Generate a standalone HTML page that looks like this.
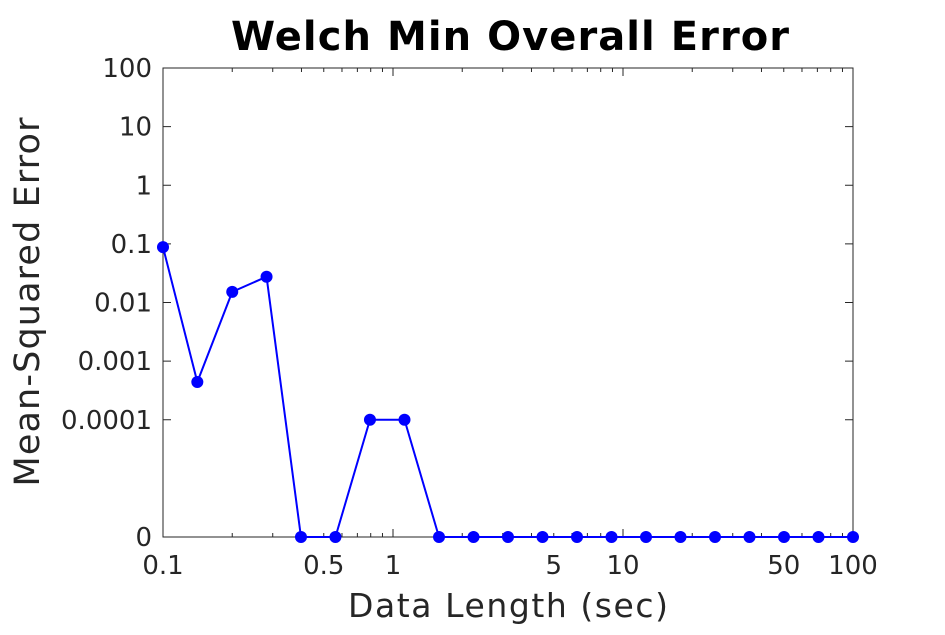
<!DOCTYPE html>
<html><head><meta charset="utf-8"><style>
body{margin:0;background:#fff;}
svg text{font-family:"DejaVu Sans","Liberation Sans",sans-serif;fill:#262626;}
</style></head><body>
<svg id="chart" width="945" height="630" xmlns="http://www.w3.org/2000/svg">
<rect width="945" height="630" fill="#fff"/>
<text x="510" y="50" text-anchor="middle" font-size="40" font-weight="bold" textLength="558" style="fill:#000">Welch Min Overall Error</text>
<text x="508" y="617" text-anchor="middle" font-size="33" textLength="320">Data Length (sec)</text>
<text transform="translate(39,302) rotate(-90)" text-anchor="middle" font-size="35" textLength="369">Mean-Squared Error</text>
<g id="axes"></g>
<g id="series"></g>
</svg>
<script>
const xValues=[0.1,0.141,0.2,0.282,0.398,0.562,0.794,1.122,1.585,2.239,3.162,4.467,6.31,8.913,12.59,17.78,25.12,35.48,50.12,70.79,100];
const yValues=[0.088,0.00044,0.0152,0.0275,0,0,0.0001,0.0001,0,0,0,0,0,0,0,0,0,0,0,0,0];
const xTickVals=[0.1,0.5,1,5,10,50,100];
const xTickLabels=["0.1","0.5","1","5","10","50","100"];
const yTickVals=[1e-6,1e-4,1e-3,1e-2,0.1,1,10,100];
const yTickLabels=["0","0.0001","0.001","0.01","0.1","1","10","100"];
const L=163,R=853,T=68,B=537;
const NS="http://www.w3.org/2000/svg";
const xs=v=>L+(Math.log10(v)+1)/3*(R-L);
const ys=v=>{const c=Math.max(v,1e-6);return B-(Math.log10(c)+6)/8*(B-T);};
function mk(t,a,p){const e=document.createElementNS(NS,t);for(const k in a)e.setAttribute(k,a[k]);p.appendChild(e);return e;}
const ax=document.getElementById('axes');
const box=mk('rect',{x:L,y:T,width:R-L,height:B-T,fill:'none',stroke:'#262626','stroke-width':1},ax);


for(let d=-1;d<2;d++)for(let m=1;m<10;m++){const v=m*Math.pow(10,d);const x=xs(v);const len=m==1?8:4;
mk('line',{x1:x,y1:B,x2:x,y2:B-len,stroke:'#262626'},ax);mk('line',{x1:x,y1:T,x2:x,y2:T+len,stroke:'#262626'},ax);}
xTickVals.forEach((v,i)=>{const t=mk('text',{x:xs(v),y:B+37,'text-anchor':'middle','font-size':26},ax);t.textContent=xTickLabels[i];

});
yTickVals.forEach((v,i)=>{const y=ys(v);mk('line',{x1:L,y1:y,x2:L+8,y2:y,stroke:'#262626'},ax);mk('line',{x1:R,y1:y,x2:R-8,y2:y,stroke:'#262626'},ax);
const t=mk('text',{x:L-11,y:y+9,'text-anchor':'end','font-size':26},ax);t.textContent=yTickLabels[i];

});
const sg=document.getElementById('series');
const pts=xValues.map((v,i)=>xs(v)+','+ys(yValues[i])).join(' ');
const pl=mk('polyline',{points:pts,fill:'none',stroke:'#0000ff','stroke-width':2},sg);


xValues.forEach((v,i)=>{const c=mk('circle',{cx:xs(v),cy:ys(yValues[i]),r:6,fill:'#0000ff'},sg);

});
</script>
</body></html>
